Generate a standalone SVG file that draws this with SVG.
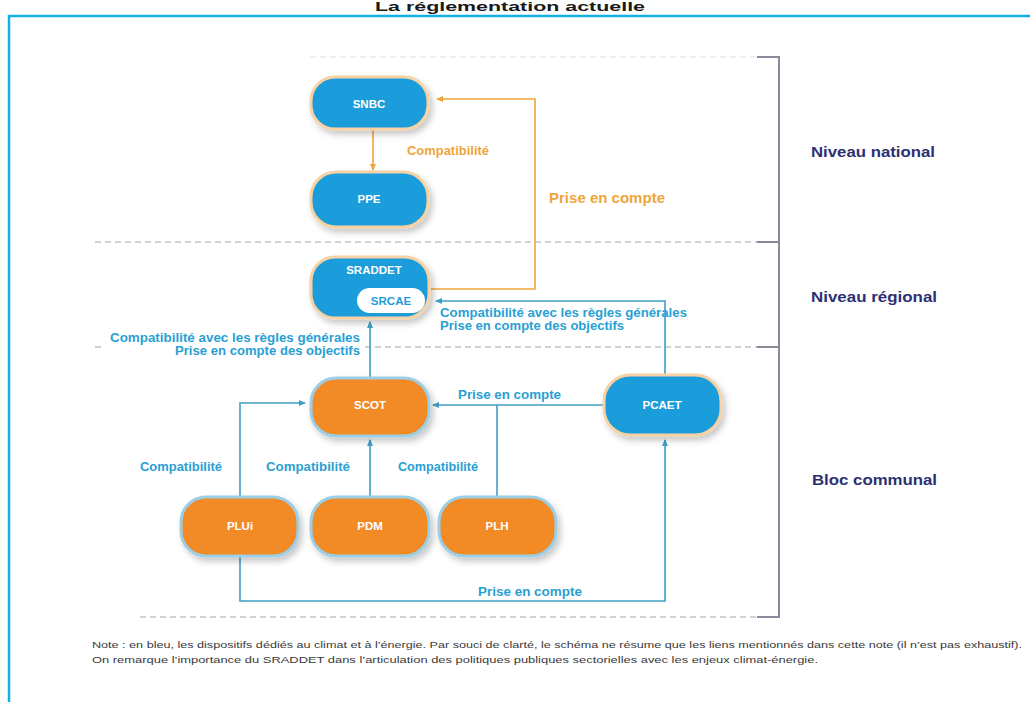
<svg xmlns="http://www.w3.org/2000/svg" width="1030" height="702" viewBox="0 0 1030 702">
<style>
.frame{fill:none;stroke:#12aee6;stroke-width:2.5}
.sep{stroke:#c4c4c4;stroke-width:1.5;stroke-dasharray:6 4;fill:none}
.sepf{stroke:#ececec;stroke-width:1.5;stroke-dasharray:6 4;fill:none}
.brk{stroke:#8a8a9c;stroke-width:2;fill:none}
.nb{fill:#1f9ddb;stroke:#f6d2a4;stroke-width:3}
.no{fill:#f28a25;stroke:#9ccfe6;stroke-width:3}
.nt{font-family:"Liberation Sans",Arial,sans-serif;font-weight:bold;font-size:11.5px;fill:#ffffff;text-anchor:middle}
.cb{stroke:#3f9fc4;stroke-width:1.6;fill:none}
.co{stroke:#f0a53a;stroke-width:1.6;fill:none}
.lb{font-family:"Liberation Sans",Arial,sans-serif;font-weight:bold;font-size:12px;fill:#2a9fd4}
.lo{font-family:"Liberation Sans",Arial,sans-serif;font-weight:bold;font-size:12px;fill:#f0a53a}
.lv{font-family:"Liberation Sans",Arial,sans-serif;font-weight:bold;font-size:14px;fill:#2d2f72}
.note{font-family:"Liberation Sans",Arial,sans-serif;font-size:9.5px;fill:#3a3a3a}
</style>
<defs>
<filter id="sh" x="-20%" y="-20%" width="150%" height="160%">
<feDropShadow dx="3" dy="4" stdDeviation="3" flood-color="#000" flood-opacity="0.22"/>
</filter>
<marker id="ab" markerWidth="8" markerHeight="8" refX="6" refY="4" orient="auto" markerUnits="userSpaceOnUse">
<path d="M0,1 L7,4 L0,7 Z" fill="#3f9fc4"/>
</marker>
<marker id="ao" markerWidth="8" markerHeight="8" refX="6" refY="4" orient="auto" markerUnits="userSpaceOnUse">
<path d="M0,1 L7,4 L0,7 Z" fill="#f0a53a"/>
</marker>
</defs>
<rect width="1030" height="702" fill="#ffffff"/>
<text x="510" y="11" font-family="'Liberation Sans',Arial,sans-serif" font-weight="bold" font-size="13.5" fill="#1a1a1a" text-anchor="middle" textLength="270" lengthAdjust="spacingAndGlyphs">La réglementation actuelle</text>
<path class="frame" d="M1032,16 H9 V704"/>

<g id="separators">
<line class="sepf" x1="310" y1="57" x2="757" y2="57"/>
<line class="sep" x1="95" y1="242" x2="757" y2="242"/>
<line class="sep" x1="95" y1="347" x2="757" y2="347"/>
<line class="sep" x1="140" y1="617" x2="757" y2="617"/>
<path class="brk" d="M757,57 H779 V617 H757 M757,242 H779 M757,347 H779"/>
</g>

<g id="connectors">
<line class="co" x1="373" y1="129" x2="373" y2="170" marker-end="url(#ao)"/>
<path class="co" d="M431,289 H535 V99 H437" marker-end="url(#ao)"/>
<path class="cb" d="M665,375 V301 H436" marker-end="url(#ab)"/>
<line class="cb" x1="370" y1="377" x2="370" y2="322" marker-end="url(#ab)"/>
<line class="cb" x1="604" y1="405" x2="433" y2="405" marker-end="url(#ab)"/>
<line class="cb" x1="497" y1="497" x2="497" y2="405"/>
<line class="cb" x1="370" y1="497" x2="370" y2="440" marker-end="url(#ab)"/>
<path class="cb" d="M240,497 V403 H305" marker-end="url(#ab)"/>
<path class="cb" d="M240,557 V601 H665 V440" marker-end="url(#ab)"/>
</g>

<g id="labels">
<text class="lo" x="407" y="155" textLength="82" lengthAdjust="spacingAndGlyphs">Compatibilité</text>
<text class="lo" x="549" y="203" font-size="14" style="font-size:14px" textLength="116" lengthAdjust="spacingAndGlyphs">Prise en compte</text>
<text class="lb" x="440" y="317" textLength="247" lengthAdjust="spacingAndGlyphs">Compatibilité avec les règles générales</text>
<text class="lb" x="440" y="330" textLength="184" lengthAdjust="spacingAndGlyphs">Prise en compte des objectifs</text>
<rect x="105" y="344" width="258" height="6" fill="#ffffff"/>
<text class="lb" x="360" y="342" text-anchor="end" textLength="250" lengthAdjust="spacingAndGlyphs">Compatibilité avec les règles générales</text>
<text class="lb" x="360" y="355" text-anchor="end" textLength="185" lengthAdjust="spacingAndGlyphs">Prise en compte des objectifs</text>
<text class="lb" x="458" y="399" textLength="103" lengthAdjust="spacingAndGlyphs">Prise en compte</text>
<text class="lb" x="140" y="471" textLength="82" lengthAdjust="spacingAndGlyphs">Compatibilité</text>
<text class="lb" x="266" y="471" textLength="84" lengthAdjust="spacingAndGlyphs">Compatibilité</text>
<text class="lb" x="398" y="471" textLength="80" lengthAdjust="spacingAndGlyphs">Compatibilité</text>
<text class="lb" x="478" y="596" textLength="104" lengthAdjust="spacingAndGlyphs">Prise en compte</text>
<text class="lv" x="811" y="157" textLength="124" lengthAdjust="spacingAndGlyphs">Niveau national</text>
<text class="lv" x="811" y="302" textLength="126" lengthAdjust="spacingAndGlyphs">Niveau régional</text>
<text class="lv" x="812" y="485" textLength="125" lengthAdjust="spacingAndGlyphs">Bloc communal</text>
</g>

<g id="SNBC"><rect class="nb" x="311" y="77" width="117" height="52" rx="24" filter="url(#sh)"/><text class="nt" x="369" y="108">SNBC</text></g>
<g id="PPE"><rect class="nb" x="311" y="172" width="117" height="55" rx="25" filter="url(#sh)"/><text class="nt" x="369" y="203">PPE</text></g>
<g id="SRADDET"><rect class="nb" x="311" y="257" width="118" height="61" rx="24" filter="url(#sh)"/><text class="nt" x="374" y="274">SRADDET</text>
<g id="SRCAE"><rect x="357" y="288" width="68" height="25" rx="12.5" fill="#ffffff"/><text class="nt" x="391" y="305" style="fill:#1f9ddb">SRCAE</text></g></g>
<g id="SCOT"><rect class="no" x="311" y="378" width="118" height="58" rx="25" filter="url(#sh)"/><text class="nt" x="370" y="409">SCOT</text></g>
<g id="PCAET"><rect class="nb" x="604" y="375" width="117" height="60" rx="26" filter="url(#sh)"/><text class="nt" x="662" y="409">PCAET</text></g>
<g id="PLUi"><rect class="no" x="181" y="497" width="117" height="59" rx="25" filter="url(#sh)"/><text class="nt" x="240" y="530">PLUi</text></g>
<g id="PDM"><rect class="no" x="311" y="497" width="118" height="59" rx="25" filter="url(#sh)"/><text class="nt" x="370" y="530">PDM</text></g>
<g id="PLH"><rect class="no" x="439" y="497" width="117" height="59" rx="25" filter="url(#sh)"/><text class="nt" x="497" y="530">PLH</text></g>

<g id="note">
<text class="note" x="92" y="648" textLength="930" lengthAdjust="spacingAndGlyphs">Note : en bleu, les dispositifs dédiés au climat et à l’énergie. Par souci de clarté, le schéma ne résume que les liens mentionnés dans cette note (il n’est pas exhaustif).</text>
<text class="note" x="92" y="663" textLength="726" lengthAdjust="spacingAndGlyphs">On remarque l’importance du SRADDET dans l’articulation des politiques publiques sectorielles avec les enjeux climat-énergie.</text>
</g>
</svg>
